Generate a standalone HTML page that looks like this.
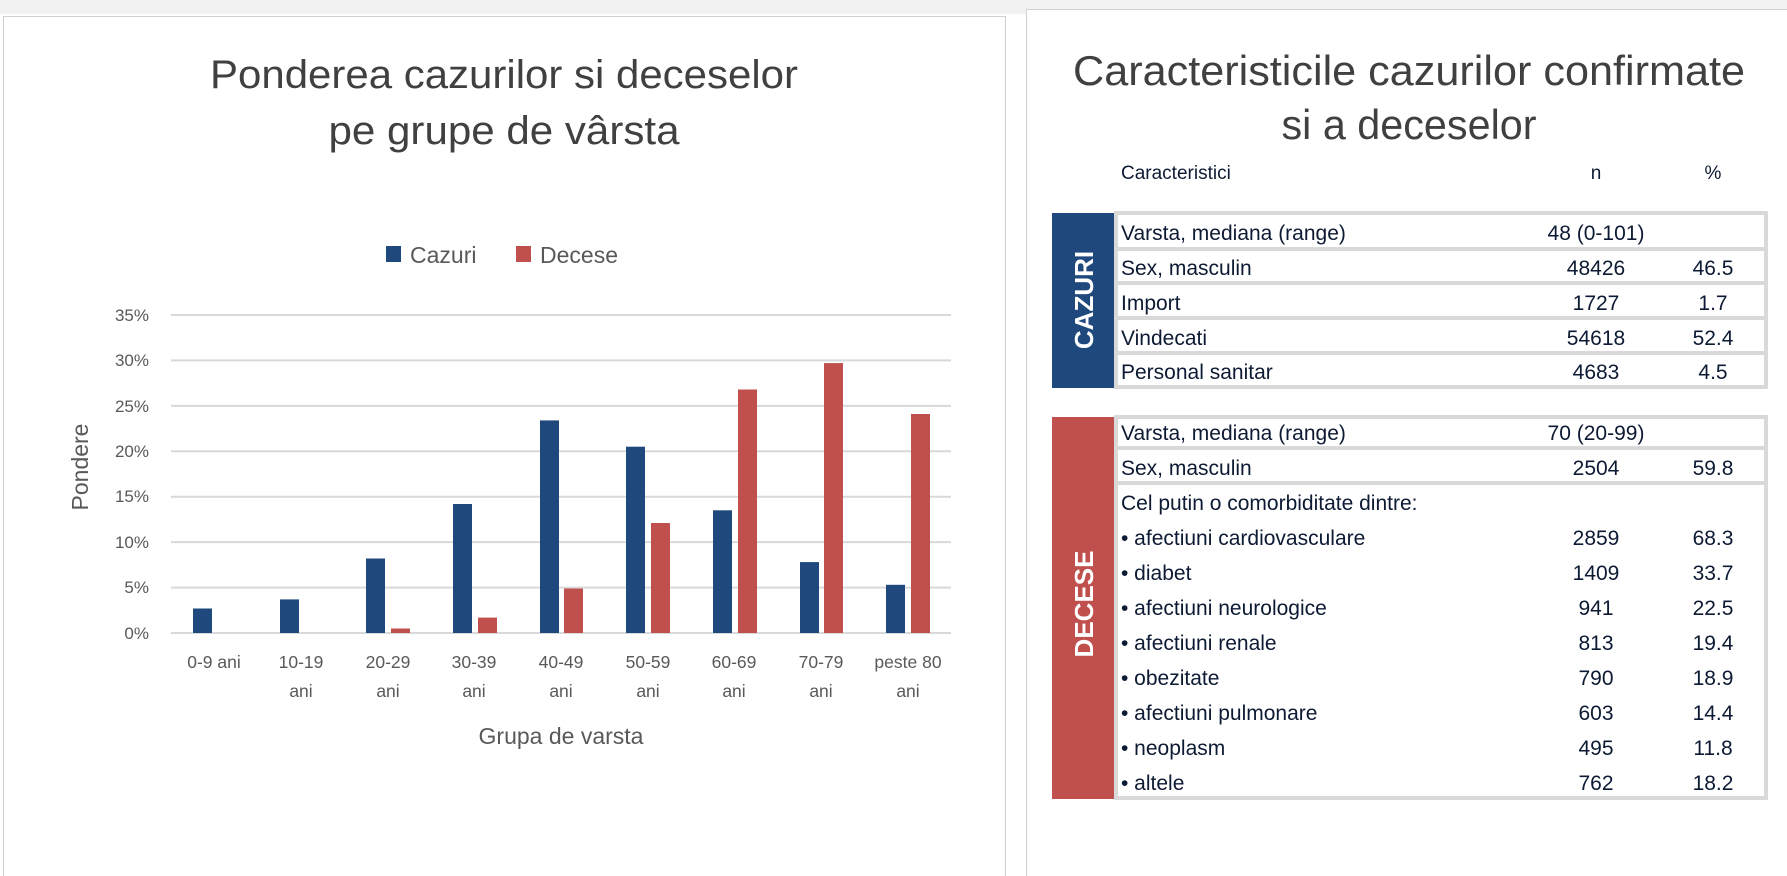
<!DOCTYPE html>
<html><head><meta charset="utf-8"><style>
html,body{margin:0;padding:0;background:#fff;}
svg{display:block;font-family:"Liberation Sans",sans-serif;}
</style></head><body>
<svg width="1787" height="876" viewBox="0 0 1787 876" xmlns="http://www.w3.org/2000/svg">
<rect width="1787" height="876" fill="#fff"/>
<rect x="0" y="0" width="1787" height="14" fill="#f2f2f2"/>
<rect x="3.5" y="16.5" width="1002" height="870" fill="#fff" stroke="#d0d0d0"/>
<rect x="1026.5" y="9.5" width="770" height="880" fill="#fff" stroke="#d0d0d0"/>
<g fill="#404040" text-anchor="middle" font-size="40">
<text x="504" y="88" textLength="588" lengthAdjust="spacingAndGlyphs">Ponderea cazurilor si deceselor</text>
<text x="504" y="144" textLength="351" lengthAdjust="spacingAndGlyphs">pe grupe de vârsta</text>
</g>
<rect x="386" y="246" width="15" height="16" fill="#1f497d"/>
<text x="410" y="263" font-size="23" fill="#595959">Cazuri</text>
<rect x="516" y="246" width="15" height="16" fill="#c0504d"/>
<text x="540" y="263" font-size="23" fill="#595959">Decese</text>
<g stroke="#d9d9d9" stroke-width="2">
<line x1="171" x2="951" y1="315" y2="315"/>
<line x1="171" x2="951" y1="360.4" y2="360.4"/>
<line x1="171" x2="951" y1="405.9" y2="405.9"/>
<line x1="171" x2="951" y1="451.3" y2="451.3"/>
<line x1="171" x2="951" y1="496.7" y2="496.7"/>
<line x1="171" x2="951" y1="542.1" y2="542.1"/>
<line x1="171" x2="951" y1="587.6" y2="587.6"/>
<line x1="171" x2="951" y1="633" y2="633"/>
</g>
<g fill="#595959" font-size="17" text-anchor="end">
<text x="149" y="321">35%</text><text x="149" y="366">30%</text><text x="149" y="412">25%</text>
<text x="149" y="457">20%</text><text x="149" y="502">15%</text><text x="149" y="548">10%</text>
<text x="149" y="593">5%</text><text x="149" y="639">0%</text>
</g>
<g fill="#1f497d">
<rect x="193" y="608.5" width="19" height="24.5"/>
<rect x="280" y="599.4" width="19" height="33.6"/>
<rect x="366" y="558.5" width="19" height="74.5"/>
<rect x="453" y="504" width="19" height="129"/>
<rect x="540" y="420.4" width="19" height="212.6"/>
<rect x="626" y="446.7" width="19" height="186.3"/>
<rect x="713" y="510.3" width="19" height="122.7"/>
<rect x="800" y="562.1" width="19" height="70.9"/>
<rect x="886" y="584.8" width="19" height="48.2"/>
</g>
<g fill="#c0504d">
<rect x="391" y="628.5" width="19" height="4.5"/>
<rect x="478" y="617.6" width="19" height="15.4"/>
<rect x="564" y="588.5" width="19" height="44.5"/>
<rect x="651" y="523" width="19" height="110"/>
<rect x="738" y="389.5" width="19" height="243.5"/>
<rect x="824" y="363.1" width="19" height="269.9"/>
<rect x="911" y="414" width="19" height="219"/>
</g>
<g fill="#595959" font-size="17.5" text-anchor="middle">
<text x="214" y="668">0-9 ani</text>
<text x="301" y="668">10-19</text><text x="301" y="697">ani</text>
<text x="388" y="668">20-29</text><text x="388" y="697">ani</text>
<text x="474" y="668">30-39</text><text x="474" y="697">ani</text>
<text x="561" y="668">40-49</text><text x="561" y="697">ani</text>
<text x="648" y="668">50-59</text><text x="648" y="697">ani</text>
<text x="734" y="668">60-69</text><text x="734" y="697">ani</text>
<text x="821" y="668">70-79</text><text x="821" y="697">ani</text>
<text x="908" y="668">peste 80</text><text x="908" y="697">ani</text>
<text x="561" y="744" font-size="23">Grupa de varsta</text>
<text transform="translate(88,467) rotate(-90)" font-size="23">Pondere</text>
</g>
<g fill="#404040" text-anchor="middle" font-size="42">
<text x="1409" y="85" textLength="672" lengthAdjust="spacingAndGlyphs">Caracteristicile cazurilor confirmate</text>
<text x="1409" y="139" textLength="255" lengthAdjust="spacingAndGlyphs">si a deceselor</text>
</g>
<g font-size="19" fill="#0d1a33">
<text x="1121" y="179">Caracteristici</text>
<text x="1596" y="179" text-anchor="middle">n</text>
<text x="1713" y="179" text-anchor="middle">%</text>
</g>
<rect x="1052" y="213" width="62" height="175" fill="#1f497d"/>
<text transform="translate(1093,300) rotate(-90)" text-anchor="middle" font-size="26" font-weight="bold" fill="#fff">CAZURI</text>
<g fill="none" stroke="#d9d9d9" stroke-width="4">
<rect x="1116" y="213" width="650" height="174"/>
<line x1="1116" x2="1766" y1="249" y2="249"/>
<line x1="1116" x2="1766" y1="283" y2="283"/>
<line x1="1116" x2="1766" y1="318" y2="318"/>
<line x1="1116" x2="1766" y1="353" y2="353"/>
</g>
<g font-size="21" fill="#0d1a33">
<text x="1121" y="240">Varsta, mediana (range)</text>
<text x="1596" y="240" text-anchor="middle">48 (0-101)</text>
<text x="1121" y="275">Sex, masculin</text><text x="1596" y="275" text-anchor="middle">48426</text><text x="1713" y="275" text-anchor="middle">46.5</text>
<text x="1121" y="310">Import</text><text x="1596" y="310" text-anchor="middle">1727</text><text x="1713" y="310" text-anchor="middle">1.7</text>
<text x="1121" y="345">Vindecati</text><text x="1596" y="345" text-anchor="middle">54618</text><text x="1713" y="345" text-anchor="middle">52.4</text>
<text x="1121" y="379">Personal sanitar</text><text x="1596" y="379" text-anchor="middle">4683</text><text x="1713" y="379" text-anchor="middle">4.5</text>
</g>
<rect x="1052" y="417" width="62" height="382" fill="#c0504d"/>
<text transform="translate(1093,604) rotate(-90)" text-anchor="middle" font-size="26" font-weight="bold" fill="#fff">DECESE</text>
<g fill="none" stroke="#d9d9d9" stroke-width="4">
<rect x="1116" y="417" width="650" height="381"/>
<line x1="1116" x2="1766" y1="448" y2="448"/>
<line x1="1116" x2="1766" y1="483" y2="483"/>
</g>
<g font-size="21" fill="#0d1a33">
<text x="1121" y="440">Varsta, mediana (range)</text><text x="1596" y="440" text-anchor="middle">70 (20-99)</text>
<text x="1121" y="475">Sex, masculin</text><text x="1596" y="475" text-anchor="middle">2504</text><text x="1713" y="475" text-anchor="middle">59.8</text>
<text x="1121" y="510">Cel putin o comorbiditate dintre:</text>
<text x="1121" y="545">• afectiuni cardiovasculare</text><text x="1596" y="545" text-anchor="middle">2859</text><text x="1713" y="545" text-anchor="middle">68.3</text>
<text x="1121" y="580">• diabet</text><text x="1596" y="580" text-anchor="middle">1409</text><text x="1713" y="580" text-anchor="middle">33.7</text>
<text x="1121" y="615">• afectiuni neurologice</text><text x="1596" y="615" text-anchor="middle">941</text><text x="1713" y="615" text-anchor="middle">22.5</text>
<text x="1121" y="650">• afectiuni renale</text><text x="1596" y="650" text-anchor="middle">813</text><text x="1713" y="650" text-anchor="middle">19.4</text>
<text x="1121" y="685">• obezitate</text><text x="1596" y="685" text-anchor="middle">790</text><text x="1713" y="685" text-anchor="middle">18.9</text>
<text x="1121" y="720">• afectiuni pulmonare</text><text x="1596" y="720" text-anchor="middle">603</text><text x="1713" y="720" text-anchor="middle">14.4</text>
<text x="1121" y="755">• neoplasm</text><text x="1596" y="755" text-anchor="middle">495</text><text x="1713" y="755" text-anchor="middle">11.8</text>
<text x="1121" y="790">• altele</text><text x="1596" y="790" text-anchor="middle">762</text><text x="1713" y="790" text-anchor="middle">18.2</text>
</g>
</svg>
</body></html>
